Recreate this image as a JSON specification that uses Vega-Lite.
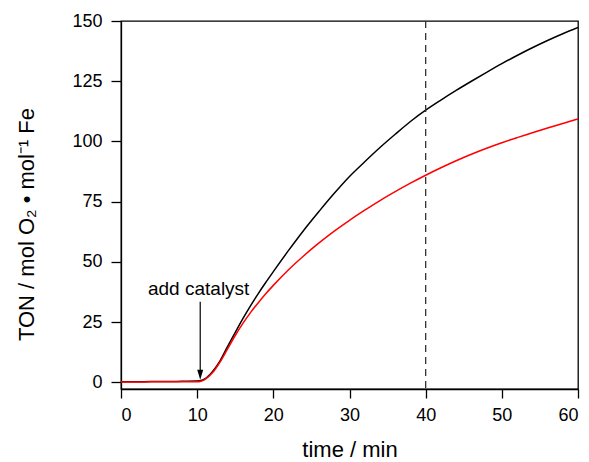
{
  "$schema": "https://vega.github.io/schema/vega-lite/v6.json",
  "autosize": "none",
  "width": 457,
  "height": 368,
  "padding": {"left": 121, "top": 21, "right": 11, "bottom": 73},
  "background": "white",
  "config": {
    "view": {"stroke": "black", "strokeWidth": 1.3},
    "font": "Liberation Sans",
    "axis": {
      "domainColor": "black",
      "domainWidth": 1.3,
      "tickColor": "black",
      "tickWidth": 1.3,
      "grid": false,
      "labelFont": "Liberation Sans",
      "titleFont": "Liberation Sans",
      "labelColor": "black",
      "titleColor": "black",
      "labelFontSize": 18,
      "titleFontSize": 22,
      "titleFontWeight": "normal"
    }
  },
  "datasets": {
    "curves": [
      {"t": 0, "ton": 0.3, "s": "black"}, {"t": 2, "ton": 0.3, "s": "black"}, {"t": 4, "ton": 0.4, "s": "black"}, {"t": 6, "ton": 0.4, "s": "black"}, {"t": 8, "ton": 0.5, "s": "black"}, {"t": 10, "ton": 0.6, "s": "black"}, {"t": 10.5, "ton": 0.8, "s": "black"}, {"t": 11, "ton": 1.5, "s": "black"}, {"t": 12, "ton": 4.5, "s": "black"}, {"t": 13, "ton": 9, "s": "black"}, {"t": 14, "ton": 15, "s": "black"}, {"t": 15, "ton": 20.8, "s": "black"}, {"t": 16, "ton": 26.5, "s": "black"}, {"t": 17, "ton": 31.8, "s": "black"}, {"t": 18, "ton": 36.8, "s": "black"}, {"t": 19, "ton": 41.5, "s": "black"}, {"t": 20, "ton": 46, "s": "black"}, {"t": 22, "ton": 54.8, "s": "black"}, {"t": 24, "ton": 63.2, "s": "black"}, {"t": 26, "ton": 71, "s": "black"}, {"t": 28, "ton": 78.5, "s": "black"}, {"t": 30, "ton": 85.5, "s": "black"}, {"t": 32, "ton": 91.6, "s": "black"}, {"t": 34, "ton": 97.5, "s": "black"}, {"t": 36, "ton": 103, "s": "black"}, {"t": 38, "ton": 108.3, "s": "black"}, {"t": 40, "ton": 113, "s": "black"}, {"t": 42, "ton": 117.2, "s": "black"}, {"t": 44, "ton": 121.2, "s": "black"}, {"t": 46, "ton": 125, "s": "black"}, {"t": 48, "ton": 128.7, "s": "black"}, {"t": 50, "ton": 132.3, "s": "black"}, {"t": 52, "ton": 135.7, "s": "black"}, {"t": 54, "ton": 138.9, "s": "black"}, {"t": 56, "ton": 141.9, "s": "black"}, {"t": 58, "ton": 144.7, "s": "black"}, {"t": 60, "ton": 147.3, "s": "black"},
      {"t": 0, "ton": 0.2, "s": "red"}, {"t": 2, "ton": 0.2, "s": "red"}, {"t": 4, "ton": 0.3, "s": "red"}, {"t": 6, "ton": 0.3, "s": "red"}, {"t": 8, "ton": 0.3, "s": "red"}, {"t": 10, "ton": 0.3, "s": "red"}, {"t": 10.5, "ton": 0.5, "s": "red"}, {"t": 11, "ton": 1.2, "s": "red"}, {"t": 12, "ton": 4, "s": "red"}, {"t": 13, "ton": 8.5, "s": "red"}, {"t": 14, "ton": 14, "s": "red"}, {"t": 15, "ton": 19.5, "s": "red"}, {"t": 16, "ton": 24.5, "s": "red"}, {"t": 17, "ton": 29, "s": "red"}, {"t": 18, "ton": 33, "s": "red"}, {"t": 19, "ton": 36.8, "s": "red"}, {"t": 20, "ton": 40.3, "s": "red"}, {"t": 22, "ton": 46.8, "s": "red"}, {"t": 24, "ton": 52.6, "s": "red"}, {"t": 26, "ton": 57.9, "s": "red"}, {"t": 28, "ton": 62.8, "s": "red"}, {"t": 30, "ton": 67.3, "s": "red"}, {"t": 32, "ton": 71.5, "s": "red"}, {"t": 34, "ton": 75.5, "s": "red"}, {"t": 36, "ton": 79.2, "s": "red"}, {"t": 38, "ton": 82.7, "s": "red"}, {"t": 40, "ton": 86, "s": "red"}, {"t": 42, "ton": 89.1, "s": "red"}, {"t": 44, "ton": 92, "s": "red"}, {"t": 46, "ton": 94.7, "s": "red"}, {"t": 48, "ton": 97.2, "s": "red"}, {"t": 50, "ton": 99.5, "s": "red"}, {"t": 52, "ton": 101.6, "s": "red"}, {"t": 54, "ton": 103.6, "s": "red"}, {"t": 56, "ton": 105.6, "s": "red"}, {"t": 58, "ton": 107.5, "s": "red"}, {"t": 60, "ton": 109.4, "s": "red"}
    ],
    "arrow": [{"t": 10.4, "top": 33.5, "bottom": 4.5, "head": 3.2, "labelY": 36.3, "labelT": 10.2, "text": "add catalyst"}]
  },
  "layer": [
    {
      "data": {"name": "curves"},
      "mark": {"type": "line", "strokeWidth": 1.5, "clip": true, "interpolate": "monotone"},
      "encoding": {
        "x": {
          "field": "t", "type": "quantitative",
          "scale": {"domain": [0, 60], "nice": false, "zero": false},
          "axis": {
            "title": "time / min",
            "values": [0, 5, 10, 15, 20, 25, 30, 35, 40, 45, 50, 55, 60],
            "labelExpr": "datum.value % 10 === 0 ? datum.label : ''",
            "tickSize": {"condition": {"test": "datum.value % 10 === 0", "value": 9}, "value": 5},
            "labelPadding": 8,
            "titlePadding": 15
          }
        },
        "y": {
          "field": "ton", "type": "quantitative",
          "scale": {"domain": [-2.7, 150], "nice": false, "zero": false},
          "axis": {
            "title": "TON / mol O₂ • mol⁻¹ Fe",
            "values": [0, 12.5, 25, 37.5, 50, 62.5, 75, 87.5, 100, 112.5, 125, 137.5, 150],
            "labelExpr": "datum.value % 25 === 0 ? datum.label : ''",
            "tickSize": {"condition": {"test": "datum.value % 25 === 0", "value": 10}, "value": 5},
            "labelPadding": 9,
            "titleAngle": -90,
            "titleX": -88,
            "titleY": 203,
            "titleAlign": "center",
            "titleBaseline": "alphabetic"
          }
        },
        "color": {"field": "s", "type": "nominal", "scale": {"domain": ["black", "red"], "range": ["#000000", "#ff0000"]}, "legend": null},
        "order": {"field": "t", "type": "quantitative"}
      }
    },
    {
      "data": {"values": [{"v": 40}]},
      "mark": {"type": "rule", "color": "#333333", "strokeWidth": 1.3, "strokeDash": [7, 5]},
      "encoding": {"x": {"field": "v", "type": "quantitative"}}
    },
    {
      "data": {"name": "arrow"},
      "mark": {"type": "rule", "color": "black", "strokeWidth": 1.2},
      "encoding": {
        "x": {"field": "t", "type": "quantitative"},
        "y": {"field": "top", "type": "quantitative"},
        "y2": {"field": "bottom"}
      }
    },
    {
      "data": {"name": "arrow"},
      "mark": {"type": "point", "shape": "M -0.6 -1 L 0.6 -1 L 0 1 Z", "filled": true, "color": "black", "size": 100, "opacity": 1},
      "encoding": {
        "x": {"field": "t", "type": "quantitative"},
        "y": {"field": "head", "type": "quantitative"}
      }
    },
    {
      "data": {"name": "arrow"},
      "mark": {"type": "text", "fontSize": 19, "font": "Liberation Sans", "color": "black", "align": "center", "baseline": "alphabetic"},
      "encoding": {
        "x": {"field": "labelT", "type": "quantitative"},
        "y": {"field": "labelY", "type": "quantitative"},
        "text": {"field": "text"}
      }
    }
  ]
}
